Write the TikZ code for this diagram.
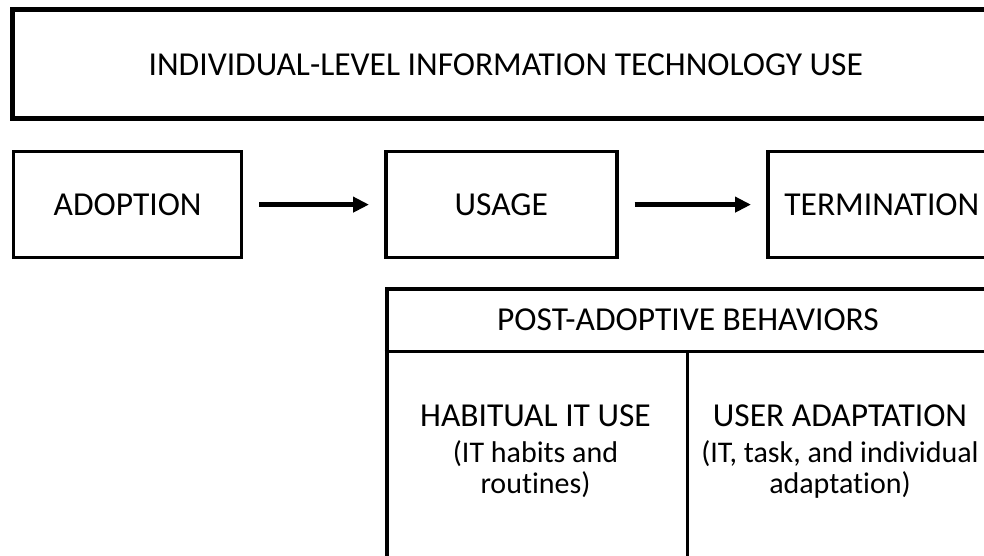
\documentclass[tikz,border=0pt]{standalone}
\usepackage{fontspec}
\setmainfont[Ligatures={NoCommon}]{Carlito}
\usetikzlibrary{arrows.meta}
\begin{document}
\begin{tikzpicture}[x=1pt,y=1pt,
  frame/.style={draw=black, line width=#1, fill=white, inner sep=0pt},
  frame/.default=3.6pt,
  flow/.style={line width=4.4pt, -{Triangle[length=16pt,width=15pt]}, shorten <=16pt, shorten >=15pt},
  big/.style={font=\fontsize{33.5}{38}\selectfont},
  small/.style={font=\fontsize{30}{31}\selectfont, align=center}]
\useasboundingbox (0,0) rectangle (984,-555);
\clip (0,0) rectangle (984,-555);

% overall heading box
\node[frame=4.8pt, minimum width=986pt, minimum height=109pt, anchor=north west,
      big] (top) at (10.4,-7.4) {INDIVIDUAL-LEVEL INFORMATION TECHNOLOGY USE};

% lifecycle stages
\node[frame, minimum width=228pt, minimum height=106pt, anchor=north west, big]
  (adopt) at (11.8,-149.8) {ADOPTION};
\node[frame, minimum width=231pt, minimum height=106pt, anchor=north west, big]
  (usage) at (384,-149.8) {USAGE};
\node[frame, minimum width=228pt, minimum height=106pt, anchor=north west, big]
  (term) at (766,-149.8) {TERMINATION};

\draw[flow] (adopt) -- (usage);
\draw[flow] (usage) -- (term);

% post-adoptive behaviours panel
\node[frame=4.2pt, minimum width=608pt, minimum height=300pt, anchor=north west]
  (post) at (384.5,-287) {};
\coordinate (divL) at (384.5,-351.5);
\coordinate (divR) at (994,-351.5);
\coordinate (midT) at (687.5,-351.5);
\coordinate (midB) at (687.5,-600);
\draw[line width=2.6pt] (divL) -- (divR);
\draw[line width=3pt] (midT) -- (midB);

\node[big] (posttitle) at (688,-319.5) {POST-ADOPTIVE BEHAVIORS};

\node[big] (habit) at (535.5,-416) {HABITUAL IT USE};
\node[small] (habitsub) at (535.5,-469.5) {(IT habits and\\routines)};

\node[big] (adapt) at (840,-416) {USER ADAPTATION};
\node[small] (adaptsub) at (840,-469.5) {(IT, task, and individual\\adaptation)};
\end{tikzpicture}
\end{document}
